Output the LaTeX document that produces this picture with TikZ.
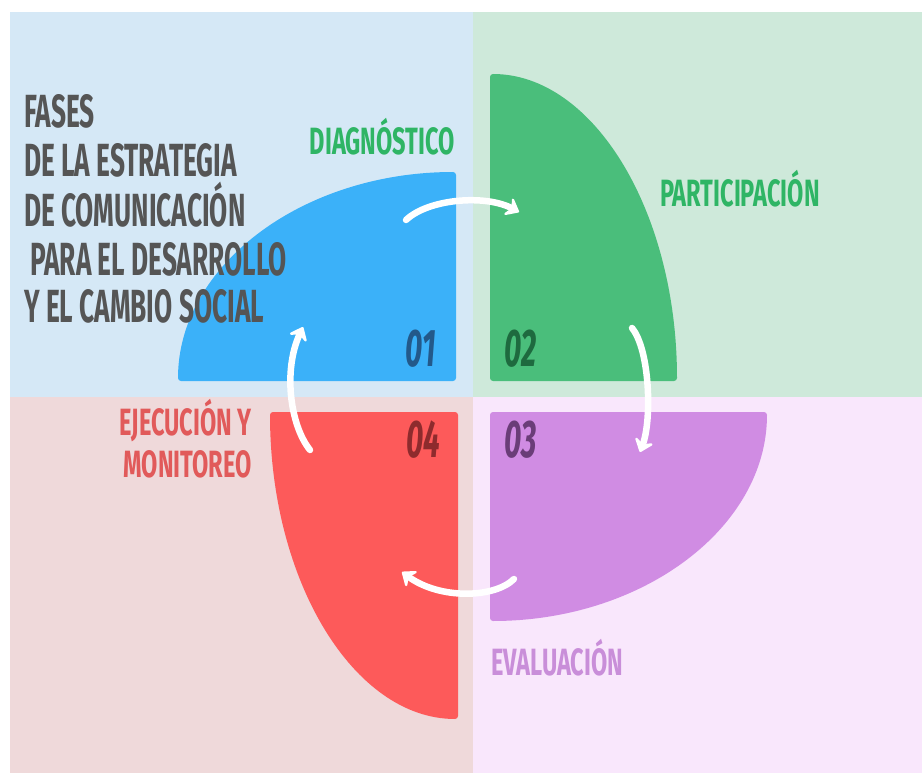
\documentclass[tikz,border=0pt]{standalone}
\usepackage{fontspec}
\usepackage{tikz}
\usetikzlibrary{positioning,calc,arrows.meta}
\newfontfamily\headfont{Fira Sans}[FakeStretch=0.62]
\newfontfamily\titlefont{Fira Sans}[FakeStretch=0.565]
\definecolor{bgblue}{HTML}{D5E8F6}
\definecolor{bggreen}{HTML}{CEE9DA}
\definecolor{bgpink}{HTML}{EFD9DA}
\definecolor{bglav}{HTML}{F9E7FC}
\definecolor{qblue}{HTML}{3BB1F9}
\definecolor{qgreen}{HTML}{4ABE7B}
\definecolor{qred}{HTML}{FD5A5A}
\definecolor{qpurple}{HTML}{D08CE3}
\definecolor{nblue}{HTML}{23598A}
\definecolor{ngreen}{HTML}{1E6A3F}
\definecolor{nred}{HTML}{8E2B2D}
\definecolor{npurple}{HTML}{6A3D78}
\definecolor{tgreen}{HTML}{2FB565}
\definecolor{tred}{HTML}{E15A5A}
\definecolor{tpurple}{HTML}{C98ED9}
\definecolor{tgray}{HTML}{555555}
\tikzset{>=Stealth}
\tikzset{
  titleline/.style={anchor=base west,inner sep=0pt,text=tgray,
    font=\titlefont\bfseries\fontsize{46.5}{50}\selectfont},
  phase/.style={inner sep=0pt,font=\headfont\bfseries\fontsize{38}{42}\selectfont},
  phasenum/.style={inner sep=0pt,font=\titlefont\bfseries\itshape\fontsize{53}{56}\selectfont},
  quarter/.style={rounded corners=3pt},
  flow/.style={white,line width=6.5pt,line cap=round,
    -{Stealth[length=15pt,width=24pt,inset=6pt,round]}}
}

\begin{document}
\begin{tikzpicture}[x=1pt,y=-1pt]
\useasboundingbox (0,0) rectangle (922,773);
\fill[white] (0,0) rectangle (922,773);
\fill[bgblue] (10,12) rectangle (473,397);
\fill[bggreen] (473,12) rectangle (922,397);
\fill[bgpink] (10,397) rectangle (473,773);
\fill[bglav] (473,397) rectangle (922,773);
% the four quarters
\fill[qblue,quarter] (456,381) -- (178,381)
  arc[start angle=180,end angle=90,x radius=278pt,y radius=209pt] -- cycle;
\fill[qgreen,quarter] (490,381) -- (490,74)
  arc[start angle=90,end angle=0,x radius=187pt,y radius=307pt] -- cycle;
\fill[qpurple,quarter] (490,412) -- (767,412)
  arc[start angle=0,end angle=-90,x radius=277pt,y radius=209pt] -- cycle;
\fill[qred,quarter] (458,412) -- (458,719)
  arc[start angle=-90,end angle=-180,x radius=188pt,y radius=307pt] -- cycle;
% numbers
\node[phasenum,text=nblue] (n01) at (421,349) {01};
\node[phasenum,text=ngreen] (n02) at (521,349) {02};
\node[phasenum,text=npurple] (n03) at (521,440) {03};
\node[phasenum,text=nred] (n04) at (423,440) {04};
% title
\node[titleline] (t1) at (24,128) {FASES};
\node[titleline] (t2) at (24,177) {DE LA ESTRATEGIA};
\node[titleline] (t3) at (24,227) {DE COMUNICACIÓN};
\node[titleline] (t4) at (30,275) {PARA EL DESARROLLO};
\node[titleline] (t5) at (24,322) {Y EL CAMBIO SOCIAL};
% phase labels
\node[phase,anchor=base east,text=tgreen] (diag) at (455,155) {DIAGNÓSTICO};
\node[phase,anchor=base west,text=tgreen] (part) at (660,207) {PARTICIPACIÓN};
\node[phase,anchor=base west,text=tpurple] (eval) at (491,675) {EVALUACIÓN};
\node[phase,anchor=base east,text=tred] (ejec) at (252,435) {EJECUCIÓN Y};
\node[phase,anchor=base east,text=tred] (moni) at (252,477) {MONITOREO};
% cycle arrows
\coordinate (a1) at (406,220);
\coordinate (b1) at (519,212);
\coordinate (a2) at (632,328);
\coordinate (b2) at (640,452);
\coordinate (a3) at (514,579);
\coordinate (b3) at (402,572);
\coordinate (a4) at (310,450);
\coordinate (b4) at (303,327);
\draw[flow] (a1) .. controls (428,199) and (485,194) .. (b1);
\draw[flow] (a2) .. controls (650,350) and (652,420) .. (b2);
\draw[flow] (a3) .. controls (495,598) and (440,600) .. (b3);
\draw[flow] (a4) .. controls (290,425) and (283,370) .. (b4);
\end{tikzpicture}
\end{document}
